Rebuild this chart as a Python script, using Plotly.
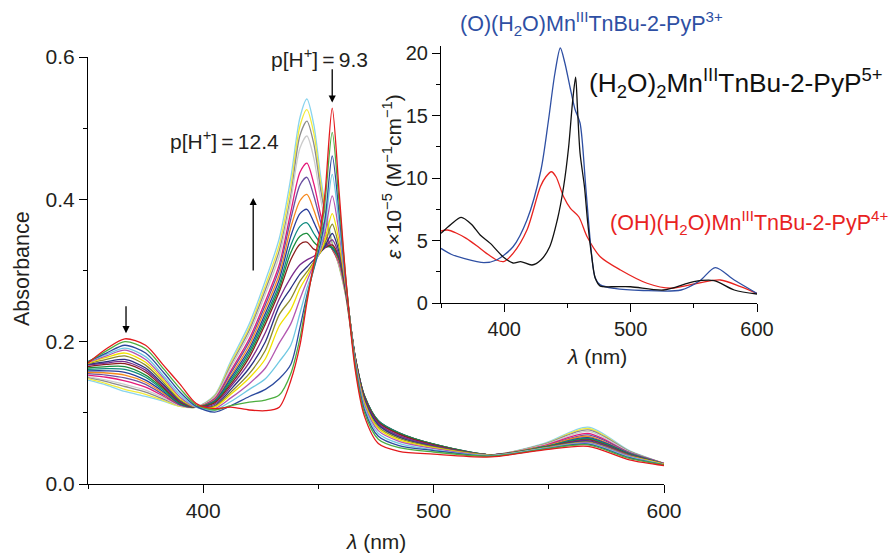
import plotly.graph_objects as go

# ---------------- main panel data (absorbance vs wavelength) ----------------
wavelength = [350, 358, 366, 375, 383, 390, 397, 405, 412, 420, 427, 433, 438, 442, 445,
              448, 451, 453, 456, 459, 462, 466, 470, 476, 485, 500, 525, 548, 567, 585, 600]

a01_pH9_3 = [0.170, 0.190, 0.204, 0.195, 0.166, 0.140, 0.113, 0.106, 0.108, 0.104, 0.103, 0.108, 0.145, 0.195, 0.255,
             0.310, 0.360, 0.413, 0.528, 0.410, 0.285, 0.160, 0.095, 0.057, 0.046, 0.042, 0.038, 0.048, 0.053, 0.034, 0.026]
a02 = [0.171, 0.187, 0.200, 0.190, 0.161, 0.134, 0.111, 0.104, 0.110, 0.115, 0.118, 0.125, 0.155, 0.205, 0.260,
       0.305, 0.350, 0.400, 0.494, 0.395, 0.285, 0.165, 0.100, 0.063, 0.051, 0.045, 0.039, 0.049, 0.055, 0.036, 0.027]
a03 = [0.172, 0.184, 0.195, 0.184, 0.156, 0.129, 0.109, 0.101, 0.110, 0.123, 0.133, 0.148, 0.168, 0.220, 0.265,
       0.302, 0.340, 0.375, 0.461, 0.380, 0.282, 0.168, 0.104, 0.067, 0.054, 0.047, 0.039, 0.049, 0.056, 0.037, 0.027]
a04 = [0.172, 0.182, 0.191, 0.179, 0.151, 0.125, 0.108, 0.104, 0.116, 0.133, 0.148, 0.172, 0.195, 0.240, 0.275,
       0.303, 0.335, 0.365, 0.435, 0.365, 0.280, 0.170, 0.108, 0.071, 0.057, 0.048, 0.040, 0.050, 0.057, 0.038, 0.027]
a05 = [0.171, 0.180, 0.188, 0.175, 0.148, 0.122, 0.108, 0.106, 0.121, 0.141, 0.163, 0.198, 0.225, 0.260, 0.285,
       0.308, 0.330, 0.355, 0.405, 0.352, 0.278, 0.172, 0.111, 0.075, 0.060, 0.050, 0.040, 0.050, 0.058, 0.039, 0.027]
a06 = [0.170, 0.178, 0.184, 0.171, 0.145, 0.120, 0.108, 0.108, 0.126, 0.149, 0.176, 0.222, 0.245, 0.275, 0.292,
       0.310, 0.327, 0.345, 0.380, 0.340, 0.276, 0.173, 0.114, 0.078, 0.062, 0.051, 0.040, 0.050, 0.058, 0.039, 0.028]
a07 = [0.169, 0.175, 0.180, 0.167, 0.142, 0.118, 0.108, 0.109, 0.129, 0.155, 0.188, 0.238, 0.260, 0.285, 0.298,
       0.312, 0.326, 0.340, 0.365, 0.332, 0.274, 0.174, 0.116, 0.080, 0.064, 0.052, 0.041, 0.051, 0.059, 0.040, 0.028]
a08 = [0.168, 0.172, 0.175, 0.163, 0.139, 0.117, 0.108, 0.110, 0.133, 0.163, 0.200, 0.250, 0.275, 0.295, 0.305,
       0.315, 0.326, 0.335, 0.352, 0.326, 0.273, 0.175, 0.118, 0.083, 0.066, 0.053, 0.041, 0.051, 0.060, 0.040, 0.028]
a09 = [0.167, 0.170, 0.172, 0.160, 0.137, 0.116, 0.108, 0.112, 0.137, 0.171, 0.213, 0.260, 0.290, 0.308, 0.315,
       0.320, 0.327, 0.333, 0.343, 0.321, 0.272, 0.176, 0.120, 0.085, 0.068, 0.054, 0.041, 0.051, 0.061, 0.041, 0.028]
a10 = [0.165, 0.168, 0.169, 0.157, 0.135, 0.115, 0.108, 0.114, 0.140, 0.178, 0.225, 0.270, 0.315, 0.337, 0.340,
       0.330, 0.327, 0.332, 0.336, 0.318, 0.270, 0.178, 0.122, 0.087, 0.070, 0.055, 0.041, 0.051, 0.062, 0.041, 0.028]
a11 = [0.163, 0.165, 0.165, 0.153, 0.133, 0.114, 0.108, 0.115, 0.143, 0.182, 0.230, 0.275, 0.325, 0.348, 0.352,
       0.340, 0.332, 0.333, 0.333, 0.317, 0.270, 0.178, 0.123, 0.088, 0.071, 0.056, 0.041, 0.052, 0.063, 0.042, 0.028]
a12 = [0.161, 0.162, 0.161, 0.150, 0.131, 0.113, 0.108, 0.116, 0.146, 0.186, 0.235, 0.280, 0.335, 0.362, 0.367,
       0.352, 0.338, 0.335, 0.332, 0.316, 0.269, 0.178, 0.124, 0.089, 0.072, 0.056, 0.041, 0.052, 0.064, 0.042, 0.028]
a13 = [0.159, 0.159, 0.157, 0.146, 0.129, 0.112, 0.108, 0.117, 0.149, 0.190, 0.240, 0.287, 0.348, 0.380, 0.386,
       0.368, 0.347, 0.338, 0.331, 0.315, 0.268, 0.178, 0.124, 0.089, 0.072, 0.056, 0.041, 0.052, 0.065, 0.043, 0.028]
a14 = [0.157, 0.156, 0.153, 0.143, 0.127, 0.112, 0.108, 0.118, 0.152, 0.195, 0.246, 0.294, 0.360, 0.398, 0.407,
       0.385, 0.356, 0.342, 0.330, 0.313, 0.267, 0.177, 0.124, 0.089, 0.072, 0.056, 0.041, 0.053, 0.067, 0.043, 0.028]
a15 = [0.155, 0.153, 0.149, 0.140, 0.125, 0.111, 0.108, 0.119, 0.156, 0.200, 0.252, 0.302, 0.372, 0.420, 0.431,
       0.405, 0.368, 0.348, 0.330, 0.312, 0.266, 0.177, 0.123, 0.088, 0.071, 0.056, 0.041, 0.053, 0.069, 0.044, 0.029]
a16 = [0.153, 0.150, 0.145, 0.136, 0.123, 0.111, 0.108, 0.120, 0.159, 0.204, 0.257, 0.308, 0.382, 0.438, 0.451,
       0.422, 0.378, 0.355, 0.330, 0.310, 0.265, 0.176, 0.122, 0.087, 0.070, 0.055, 0.041, 0.054, 0.071, 0.044, 0.029]
a17 = [0.151, 0.146, 0.140, 0.132, 0.121, 0.110, 0.108, 0.122, 0.164, 0.211, 0.267, 0.320, 0.398, 0.472, 0.489,
       0.458, 0.400, 0.370, 0.333, 0.308, 0.264, 0.175, 0.121, 0.086, 0.069, 0.055, 0.041, 0.055, 0.074, 0.045, 0.029]
a18 = [0.150, 0.144, 0.137, 0.129, 0.119, 0.110, 0.108, 0.123, 0.167, 0.216, 0.273, 0.328, 0.405, 0.490, 0.510,
       0.478, 0.413, 0.378, 0.335, 0.307, 0.263, 0.174, 0.120, 0.085, 0.068, 0.054, 0.041, 0.056, 0.076, 0.046, 0.029]
a19 = [0.148, 0.141, 0.133, 0.126, 0.117, 0.109, 0.108, 0.124, 0.170, 0.220, 0.279, 0.336, 0.418, 0.503, 0.526,
       0.493, 0.423, 0.385, 0.337, 0.306, 0.262, 0.173, 0.119, 0.084, 0.067, 0.054, 0.041, 0.056, 0.078, 0.046, 0.029]
a20_pH12_4 = [0.146, 0.139, 0.130, 0.123, 0.116, 0.109, 0.108, 0.125, 0.173, 0.225, 0.286, 0.345, 0.430, 0.515, 0.541,
              0.505, 0.432, 0.390, 0.340, 0.305, 0.262, 0.172, 0.118, 0.083, 0.066, 0.053, 0.041, 0.057, 0.080, 0.047, 0.029]

main_curves = [a01_pH9_3, a02, a03, a04, a05, a06, a07, a08, a09, a10,
               a11, a12, a13, a14, a15, a16, a17, a18, a19, a20_pH12_4]
main_colors = ["#e3191c", "#4cae3f", "#2c4a9e", "#6fc8e2", "#b357b0", "#f2e200", "#8d8c2e", "#2b3282",
               "#7b2d8e", "#8c1d1d", "#1c8e3c", "#0e8a7e", "#293d9b", "#f6891f", "#6b51a1", "#e4197a",
               "#cccccc", "#8c8c8c", "#f2eb3a", "#89d4ee"]

# ---------------- inset data (molar absorptivity x 1e-5) ----------------
ins_black_x = [350, 358, 366, 374, 381, 389, 399, 407, 413, 422, 429, 436, 442, 447, 451, 454, 456.5,
               458, 460, 463.5, 466, 469, 472, 476, 485, 500, 526, 550, 566, 582, 600]
ins_black_y = [5.57, 6.3, 6.85, 6.3, 5.44, 4.77, 3.71, 3.2, 3.31, 3.04, 3.44, 4.5, 6.64, 9.3, 12.5, 16.0, 18.06,
               15.5, 12.0, 9.3, 6.5, 3.9, 2.0, 1.35, 1.3, 1.3, 1.04, 1.71, 1.79, 1.04, 0.72]

ins_blue_x = [350, 358, 368, 384, 394, 407, 418, 429, 435, 440, 444.4, 448, 452, 456, 460, 464.5,
              469, 472, 476, 487, 510, 540, 555, 567, 582, 600]
ins_blue_y = [4.37, 3.9, 3.57, 3.23, 3.44, 4.5, 6.64, 10.6, 14.6, 18.3, 20.4, 19.2, 17.3, 15.5, 14.4, 9.3,
              4.0, 2.0, 1.45, 1.17, 1.0, 1.04, 1.8, 2.83, 1.84, 0.77]

ins_red_x = [350, 355, 362, 370, 378, 386, 394, 399.5, 407, 418, 428.6, 433, 437.3, 441, 447, 452.4,
             459, 465.6, 476, 492, 513, 532, 553, 571, 587, 600]
ins_red_y = [5.76, 5.84, 5.6, 5.17, 4.6, 3.97, 3.44, 3.31, 3.97, 5.84, 9.3, 10.1, 10.5, 10.1, 8.5, 7.57,
             6.9, 5.3, 3.7, 2.64, 1.58, 1.18, 1.58, 1.84, 1.31, 0.77]

FONT = "Liberation Sans, Arial, Helvetica, sans-serif"
TXT = "#231f20"

# plot area in pixels: x 88..757, y 46..484
L, R, T, B = 88, 134, 46, 69
PW, PH = 891 - L - R, 553 - T - B

fig = go.Figure()

for y, c in reversed(list(zip(main_curves, main_colors))):
    fig.add_trace(go.Scatter(x=wavelength, y=y, mode="lines", xaxis="x", yaxis="y",
                             line=dict(color=c, width=1.3, shape="spline", smoothing=0.8),
                             showlegend=False, hoverinfo="skip"))

for xs, ys, c in [(ins_red_x, ins_red_y, "#e8231f"), (ins_blue_x, ins_blue_y, "#2e4fa3"),
                  (ins_black_x, ins_black_y, "#111111")]:
    fig.add_trace(go.Scatter(x=xs, y=ys, mode="lines", xaxis="x2", yaxis="y2",
                             line=dict(color=c, width=1.3, shape="spline", smoothing=0.8),
                             showlegend=False, hoverinfo="skip"))

axis_common = dict(showline=True, linecolor="black", linewidth=1.2, ticks="outside", ticklen=8,
                   tickwidth=1.2, tickcolor="black", showgrid=False, zeroline=False)

fig.update_layout(
    width=891, height=553, margin=dict(l=L, r=R, t=T, b=B, autoexpand=False),
    paper_bgcolor="white", plot_bgcolor="rgba(0,0,0,0)",
    font=dict(family=FONT, color=TXT),
    xaxis=dict(domain=[0, (664 - L) / PW], range=[350, 600], anchor="y",
               tickvals=[400, 500, 600], ticktext=["400", "500", "600"],
               tickfont=dict(family=FONT, size=21, color=TXT),
               minor=dict(tickvals=[350, 450, 550], ticks="outside", ticklen=4, tickcolor="black"),
               **axis_common),
    yaxis=dict(domain=[0, (484 - 57) / PH], range=[0, 0.6], anchor="x",
               tickvals=[0, 0.2, 0.4, 0.6], ticktext=["0.0", "0.2", "0.4", "0.6"],
               tickfont=dict(family=FONT, size=21, color=TXT),
               minor=dict(tickvals=[0.1, 0.3, 0.5], ticks="outside", ticklen=4, tickcolor="black"),
               **axis_common),
    xaxis2=dict(domain=[(441 - L) / PW, 1], range=[350, 600], anchor="y2",
                tickvals=[400, 500, 600], ticktext=["400", "500", "600"],
                tickfont=dict(family=FONT, size=20, color=TXT),
                minor=dict(tickvals=[350, 450, 550], ticks="outside", ticklen=4, tickcolor="black"),
                **axis_common),
    yaxis2=dict(domain=[(484 - 303) / PH, 1], range=[0, 20.56], anchor="x2",
                tickvals=[0, 5, 10, 15, 20], ticktext=["0", "5", "10", "15", "20"],
                tickfont=dict(family=FONT, size=20, color=TXT),
                minor=dict(tickvals=[2.5, 7.5, 12.5, 17.5], ticks="outside", ticklen=4, tickcolor="black"),
                **axis_common),
)


def ann(text, px, py, size=21, color=TXT, xanchor="center", angle=0):
    fig.add_annotation(text=text, xref="paper", yref="paper", x=(px - L) / PW, y=(484 - py) / PH,
                       xanchor=xanchor, yanchor="middle", showarrow=False, textangle=angle,
                       font=dict(family=FONT, size=size, color=color))


ann("Absorbance", 22, 269, size=21.5, angle=-90)
ann("<i>λ</i> (nm)", 376, 541)
ann("p[H<sup>+</sup>]\u2009=\u20099.3", 319, 58)
ann("p[H<sup>+</sup>]\u2009=\u200912.4", 224, 140)
ann("<i>λ</i> (nm)", 597, 356)
ann("<i>ε</i>\u2009×10<sup>−5</sup> (M<sup>−1</sup>cm<sup>−1</sup>)", 392, 177, angle=-90)
ann("(O)(H<sub>2</sub>O)Mn<sup>III</sup>TnBu-2-PyP<sup>3+</sup>", 458, 23, size=21.5,
    color="#2e4fa3", xanchor="left")
ann("(H<sub>2</sub>O)<sub>2</sub>Mn<sup>III</sup>TnBu-2-PyP<sup>5+</sup>", 587, 83, size=26.3,
    color="#111111", xanchor="left")
ann("(OH)(H<sub>2</sub>O)Mn<sup>III</sup>TnBu-2-PyP<sup>4+</sup>", 608, 223, size=21.5,
    color="#e8231f", xanchor="left")

for hx, hy, tx, ty in [(456, 0.536, 456, 0.585), (421.7, 0.402, 421.7, 0.298), (366.5, 0.212, 366.5, 0.252)]:
    fig.add_annotation(x=hx, y=hy, ax=tx, ay=ty, xref="x", yref="y", axref="x", ayref="y",
                       text="", showarrow=True, arrowhead=2, arrowsize=1.1, arrowwidth=1.3,
                       arrowcolor="black")

fig.write_html("out.html", config={"displayModeBar": False},
               post_script="document.body.style.margin='0px';")
